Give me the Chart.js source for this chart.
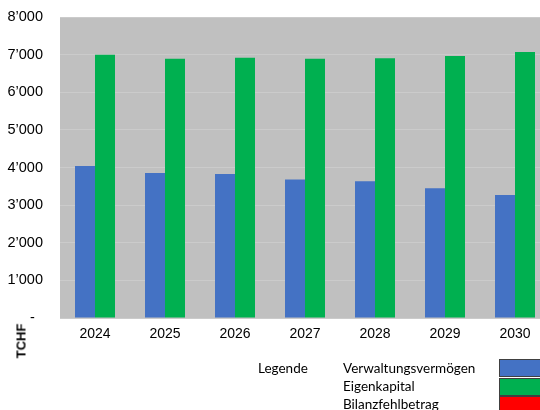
<!DOCTYPE html>
<html>
<head>
<meta charset="utf-8">
<script src="https://cdn.jsdelivr.net/npm/chart.js@4"></script>
<style>
  html, body { margin: 0; padding: 0; width: 540px; height: 410px; overflow: hidden; background: #fff; }
  #wrap { position: absolute; left: 0; top: 0; width: 550px; height: 410px; }
  #ytitle { position: absolute; left: 21px; top: 341px; transform: translate(-50%, -50%) rotate(-90deg);
            font: bold 13px "Liberation Sans", Arial, sans-serif; color: #000; white-space: nowrap; }
  .lg { position: absolute; font: 13.5px Lato, "Open Sans", sans-serif; color: #000; white-space: nowrap; line-height: 18px; }
  .sw { position: absolute; box-sizing: border-box; border: 1px solid #404040; }
</style>
</head>
<body>
<div id="wrap"><canvas id="c"></canvas></div>
<div id="ytitle">TCHF</div>
<div id="legend"></div>
<script>
const years = ['2024', '2025', '2026', '2027', '2028', '2029', '2030'];
const verwaltungsvermoegen = [4040, 3855, 3830, 3680, 3635, 3450, 3270];
const eigenkapital = [6995, 6890, 6915, 6890, 6905, 6965, 7070];
const bilanzfehlbetrag = [0, 0, 0, 0, 0, 0, 0];
const seriesNames = ['Verwaltungsvermögen', 'Eigenkapital', 'Bilanzfehlbetrag'];
const seriesColors = ['#4472C4', '#00B050', '#FF0000'];
const legendTitle = 'Legende';
const yAxisTitle = 'TCHF';

document.getElementById('ytitle').textContent = yAxisTitle;

const bgPlugin = {
  id: 'plotBg',
  beforeDraw(chart) {
    const a = chart.chartArea, ctx = chart.ctx;
    ctx.save();
    ctx.fillStyle = '#C0C0C0';
    ctx.fillRect(a.left, a.top, a.right - a.left, a.bottom - a.top);
    ctx.restore();
  }
};

function fmt(v) {
  if (v === 0) return '-  ';
  const s = String(Math.round(v));
  return s.replace(/\B(?=(\d{3})+(?!\d))/g, '\u2019');
}

new Chart(document.getElementById('c'), {
  type: 'bar',
  data: {
    labels: years,
    datasets: [
      { label: seriesNames[0], data: verwaltungsvermoegen, backgroundColor: seriesColors[0], stack: 'a' },
      { label: seriesNames[1], data: eigenkapital, backgroundColor: seriesColors[1], stack: 'b' },
      { label: seriesNames[2], data: bilanzfehlbetrag, backgroundColor: seriesColors[2], stack: 'a' }
    ]
  },
  options: {
    responsive: true,
    maintainAspectRatio: false,
    animation: false,
    layout: { padding: { top: 17, bottom: 62, left: 0, right: 0 } },
    datasets: { bar: { categoryPercentage: 40 / 70, barPercentage: 1, borderWidth: 0 } },
    plugins: { legend: { display: false }, tooltip: { enabled: false } },
    scales: {
      x: {
        stacked: true,
        grid: { display: false, drawTicks: false },
        border: { display: false },
        ticks: { color: '#000', font: { family: 'Liberation Sans', size: 14 }, padding: 8, maxRotation: 0 },
        afterFit(axis) { axis.height = 30; }
      },
      y: {
        stacked: true,
        min: 0, max: 8000,
        grid: { color: '#CBCBCB', lineWidth: 1, drawTicks: false },
        border: { display: false },
        ticks: { stepSize: 1000, color: '#000', font: { family: 'Liberation Sans', size: 14.5 }, padding: 17, callback: (v) => fmt(v) },
        afterFit(axis) { axis.width = 60; axis.paddingTop = 0; axis.paddingBottom = 0; }
      }
    }
  },
  plugins: [bgPlugin]
});

const lg = document.getElementById('legend');
const t = document.createElement('div');
t.className = 'lg'; t.style.left = '258px'; t.style.top = '359px'; t.textContent = legendTitle;
lg.appendChild(t);
seriesNames.forEach((n, i) => {
  const d = document.createElement('div');
  d.className = 'lg'; d.style.left = '343px'; d.style.top = (359 + i * 18) + 'px'; d.textContent = n;
  lg.appendChild(d);
  const s = document.createElement('div');
  s.className = 'sw'; s.style.left = '499px'; s.style.top = (359 + i * 18.5) + 'px';
  s.style.width = '50px'; s.style.height = '18px'; s.style.background = seriesColors[i];
  lg.appendChild(s);
});
</script>
</body>
</html>
